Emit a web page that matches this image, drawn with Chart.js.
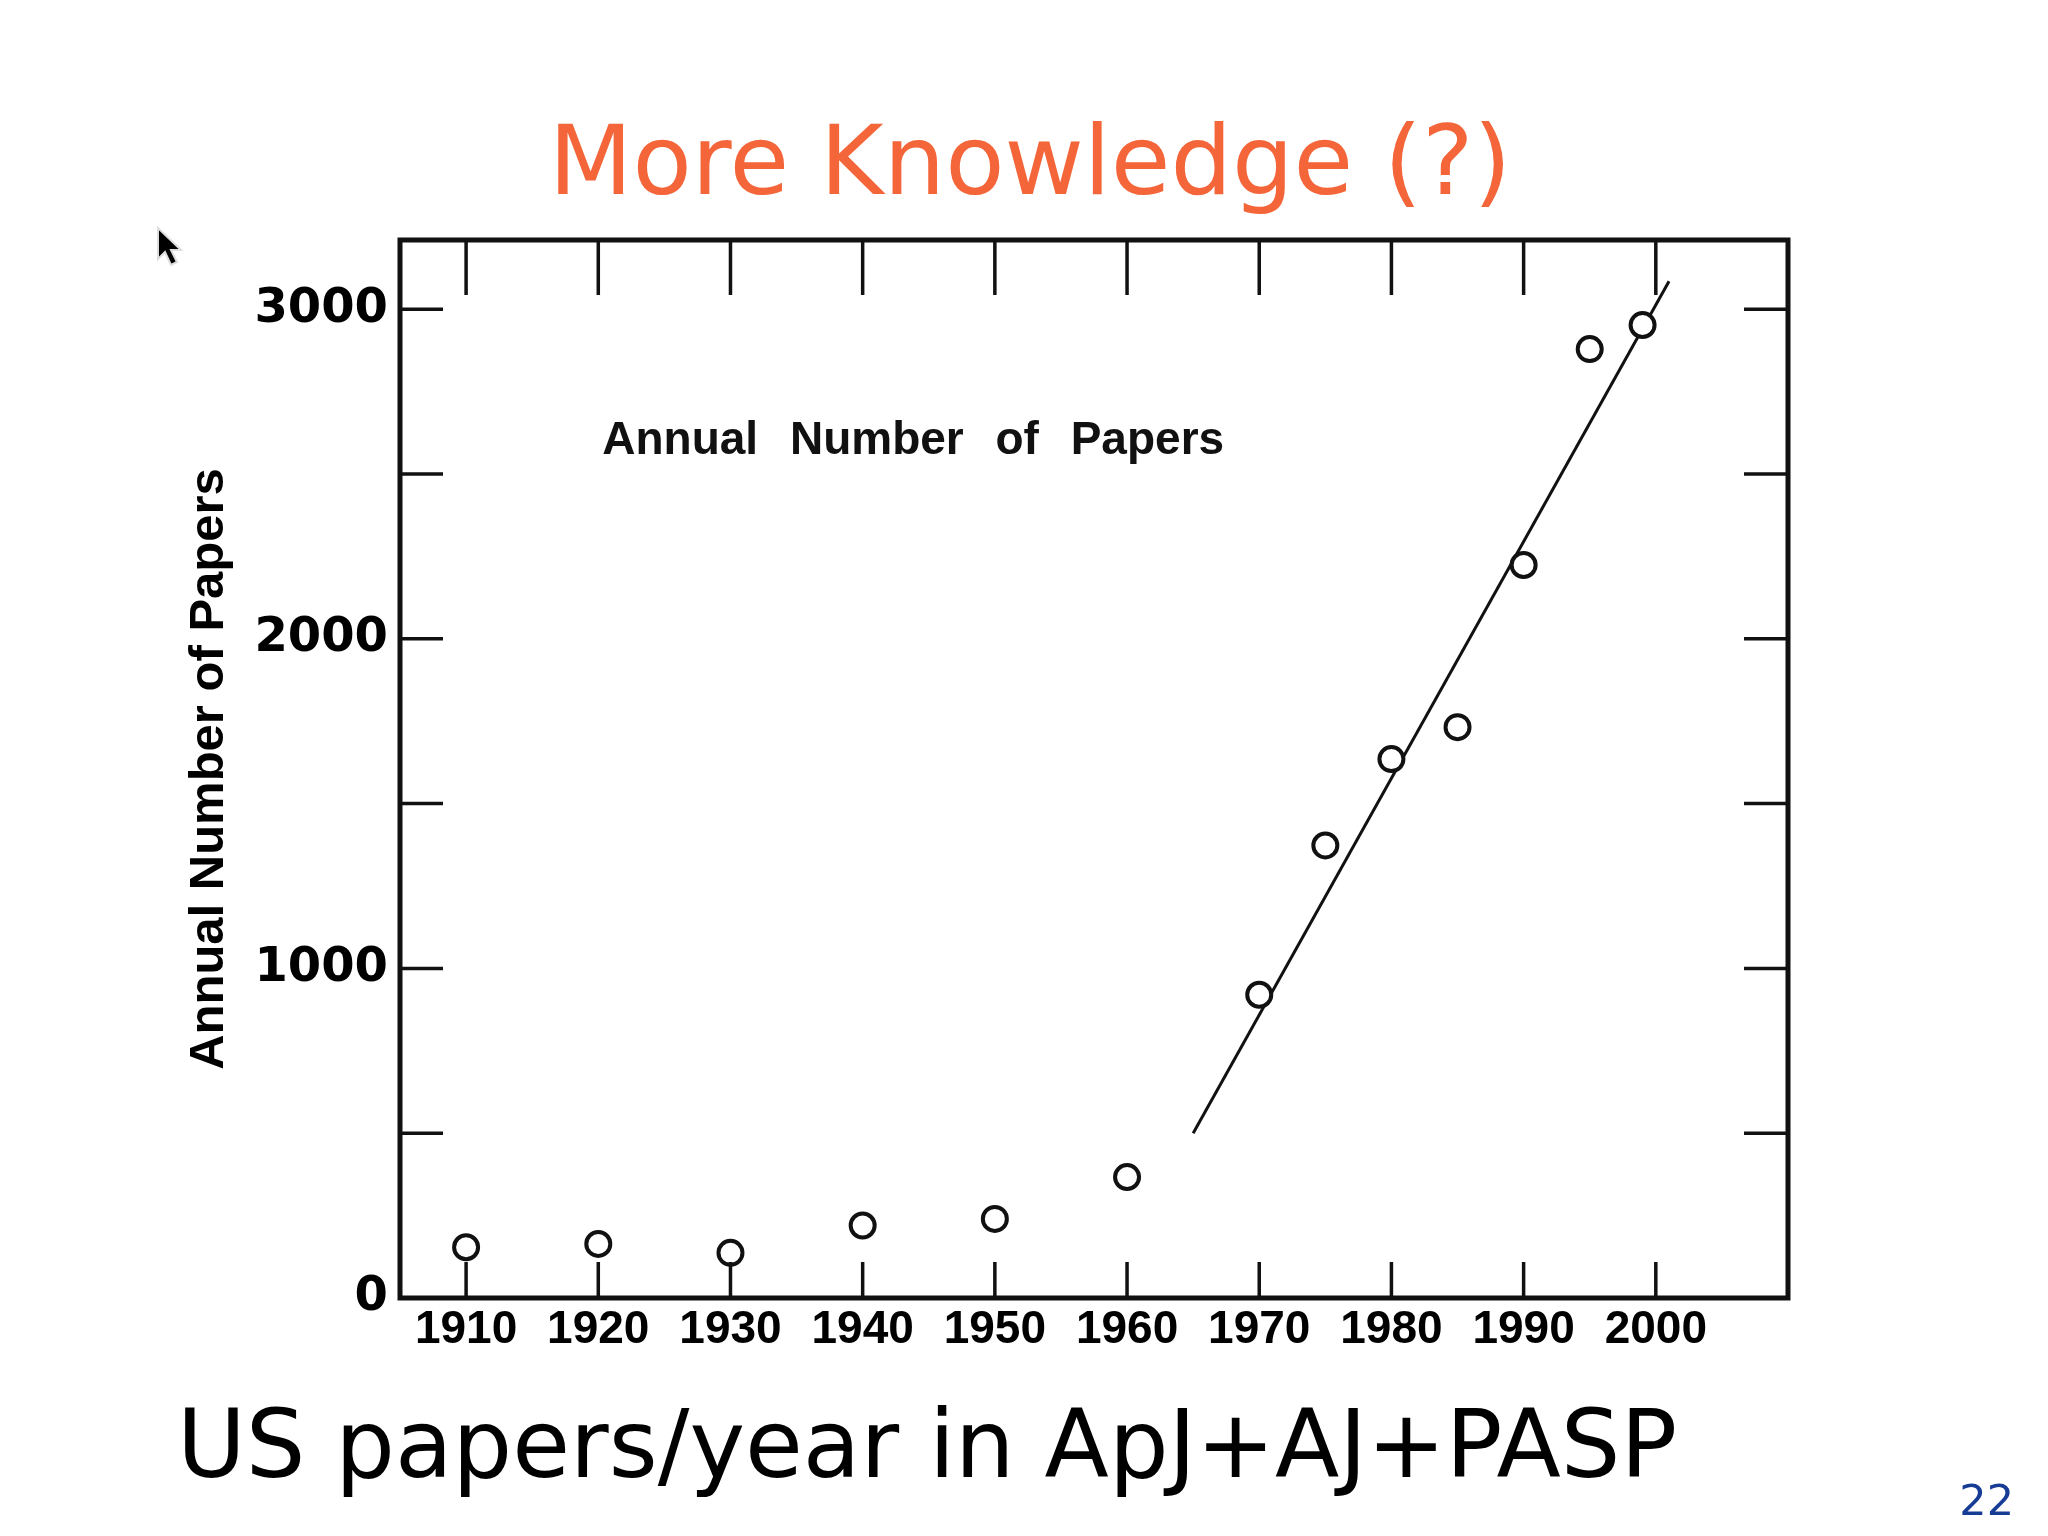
<!DOCTYPE html>
<html>
<head>
<meta charset="utf-8">
<title>More Knowledge (?)</title>
<script src="https://cdn.jsdelivr.net/npm/chart.js@4.4.1/dist/chart.umd.min.js"></script>
<style>
  html, body { margin: 0; padding: 0; background: #ffffff; }
  #wrap { width: 2048px; height: 1536px; }
</style>
</head>
<body>
<div id="wrap"><canvas id="chart" width="2048" height="1536"></canvas></div>
<script>
// --- data ---
const years = [1910, 1920, 1930, 1940, 1950, 1960, 1970, 1975, 1980, 1985, 1990, 1995, 1999];
const papers = [154, 164, 137, 220, 240, 367, 920, 1373, 1635, 1732, 2224, 2879, 2952];

// hand-drawn trend line (end points)
const fitYears = [1965, 2001];
const fitPapers = [500, 3085];

const xTicks = [1910, 1920, 1930, 1940, 1950, 1960, 1970, 1980, 1990, 2000];
const yTicks = [0, 500, 1000, 1500, 2000, 2500, 3000];
const yLabelled = [0, 1000, 2000, 3000];

const INK = '#111111';

// inward tick marks + frame, like the old plotted figure
const framePlugin = {
    id: 'frame',
    afterDatasetsDraw(chart) {
        const { ctx, chartArea: a, scales: { x, y } } = chart;
        ctx.save();
        ctx.strokeStyle = INK;
        ctx.lineWidth = 3.5;
        ctx.beginPath();
        xTicks.forEach(v => {
            const px = x.getPixelForValue(v);
            ctx.moveTo(px, a.top);
            ctx.lineTo(px, a.top + 55);
            ctx.moveTo(px, a.bottom);
            ctx.lineTo(px, a.bottom - 36);
        });
        yTicks.forEach(v => {
            if (v === 0) return;
            const py = y.getPixelForValue(v);
            ctx.moveTo(a.left, py);
            ctx.lineTo(a.left + 43, py);
            ctx.moveTo(a.right, py);
            ctx.lineTo(a.right - 44, py);
        });
        ctx.stroke();

        ctx.lineWidth = 5;
        ctx.strokeRect(a.left, a.top, a.right - a.left, a.bottom - a.top);

        // label inside the plot
        ctx.fillStyle = INK;
        ctx.font = "bold 46px 'Liberation Sans', sans-serif";
        ctx.textAlign = 'left';
        ctx.textBaseline = 'middle';
        ctx.wordSpacing = '19px';
        ctx.fillText('Annual Number of Papers', x.getPixelForValue(1920.3), y.getPixelForValue(2598));
        ctx.restore();
    },
    afterDraw(chart) {
        const { ctx } = chart;
        ctx.save();
        // slide number
        ctx.fillStyle = '#163C96';
        ctx.font = "43px 'DejaVu Sans', sans-serif";
        ctx.textAlign = 'right';
        ctx.textBaseline = 'alphabetic';
        ctx.fillText('22', 2014, 1515);

        // mouse pointer left on the slide
        ctx.beginPath();
        ctx.moveTo(158, 228);
        ctx.lineTo(158, 259);
        ctx.lineTo(165, 252);
        ctx.lineTo(171, 265);
        ctx.lineTo(177, 262);
        ctx.lineTo(171, 250);
        ctx.lineTo(181, 250);
        ctx.closePath();
        ctx.fillStyle = '#000';
        ctx.strokeStyle = '#ddd';
        ctx.lineWidth = 2;
        ctx.fill();
        ctx.stroke();
        ctx.restore();
    }
};

const ctx = document.getElementById('chart').getContext('2d');
new Chart(ctx, {
    type: 'scatter',
    data: {
        datasets: [{
            label: 'Annual Number of Papers',
            data: years.map((yr, i) => ({ x: yr, y: papers[i] })),
            pointStyle: 'circle',
            pointRadius: 12,
            pointBorderWidth: 4,
            pointBorderColor: INK,
            pointBackgroundColor: '#ffffff',
            showLine: false
        }, {
            label: 'Trend',
            type: 'line',
            data: fitYears.map((yr, i) => ({ x: yr, y: fitPapers[i] })),
            borderColor: INK,
            borderWidth: 3,
            pointRadius: 0,
            fill: false
        }]
    },
    options: {
        responsive: false,
        animation: false,
        layout: { padding: { left: 177, right: 165, top: 0, bottom: 0 } },
        plugins: {
            legend: { display: false },
            tooltip: { enabled: false },
            title: {
                display: true,
                text: 'More Knowledge (?)',
                color: '#F4663A',
                align: 'center',
                font: { family: "'DejaVu Sans', sans-serif", size: 97, weight: 'normal', lineHeight: 1 },
                padding: { top: 120, bottom: 23 }
            },
            subtitle: {
                display: true,
                position: 'bottom',
                text: 'US papers/year in ApJ+AJ+PASP',
                color: '#000000',
                align: 'start',
                font: { family: "'DejaVu Sans', sans-serif", size: 94, weight: 'normal', lineHeight: 1 },
                padding: { top: 38, bottom: 36 }
            }
        },
        scales: {
            x: {
                type: 'linear',
                position: 'bottom',
                min: 1905,
                max: 2010,
                afterBuildTicks: s => { s.ticks = xTicks.map(v => ({ value: v })); },
                afterFit: s => { s.height = 70; },
                grid: { display: false, drawTicks: false },
                border: { display: false },
                ticks: {
                    color: '#000',
                    font: { family: "'Liberation Sans', sans-serif", size: 46, weight: 'bold' },
                    padding: 5,
                    maxRotation: 0,
                    autoSkip: false,
                    callback: v => String(v)
                }
            },
            y: {
                position: 'left',
                min: 0,
                max: 3210,
                afterBuildTicks: s => { s.ticks = yTicks.map(v => ({ value: v })); },
                afterFit: s => { s.width = 223; },
                grid: { display: false, drawTicks: false },
                border: { display: false },
                ticks: {
                    color: '#000',
                    font: { family: "'DejaVu Sans', sans-serif", size: 48, weight: 'bold' },
                    padding: 12,
                    autoSkip: false,
                    callback: v => yLabelled.includes(v) ? String(v) : ''
                },
                title: {
                    display: true,
                    text: 'Annual Number of Papers',
                    color: '#000',
                    font: { family: "'Liberation Sans', sans-serif", size: 49, weight: 'bold', lineHeight: 1 },
                    padding: { top: 8, bottom: 0 }
                }
            },
            y2: {
                position: 'right',
                min: 0,
                max: 3210,
                grid: { display: false, drawTicks: false },
                border: { display: false },
                ticks: { display: false },
                afterFit: s => { s.width = 95; }
            }
        }
    },
    plugins: [framePlugin]
});
</script>
</body>
</html>
